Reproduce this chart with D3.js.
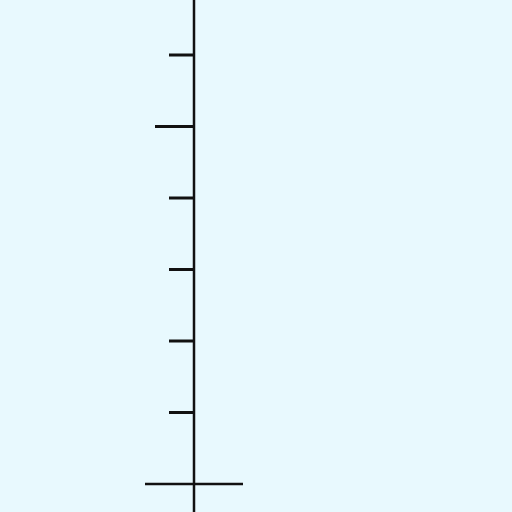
<!DOCTYPE html>
<html><head><meta charset="utf-8">
<script src="https://cdn.jsdelivr.net/npm/d3@7"></script>
<style>html,body{margin:0;padding:0;background:#e8f9fe;}svg{display:block;}</style>
</head><body>
<script>
const tickValues = [0, 1, 2, 3, 4, 5, 6];
const majorTicks = [0, 5];
const yDomain = [0, 6];

const W = 512, H = 512;
const svg = d3.select("body").append("svg").attr("width", W).attr("height", H);
svg.append("rect").attr("width", W).attr("height", H).attr("fill", "#e8f9fe");

const y = d3.scaleLinear().domain(yDomain).range([484, 55]);
const axisX = 194;

// vertical axis line
svg.append("line").attr("x1", axisX).attr("x2", axisX).attr("y1", 0).attr("y2", H)
  .attr("stroke", "#111").attr("stroke-width", 2.5);

// ticks
svg.selectAll("line.tick").data(tickValues.filter(v => v !== 0)).join("line")
  .attr("class", "tick")
  .attr("x1", d => majorTicks.includes(d) ? axisX - 39 : axisX - 25)
  .attr("x2", axisX)
  .attr("y1", d => y(d)).attr("y2", d => y(d))
  .attr("stroke", "#111").attr("stroke-width", 3);

// baseline cross at zero
svg.append("line").attr("x1", axisX - 49).attr("x2", axisX + 49)
  .attr("y1", y(0)).attr("y2", y(0))
  .attr("stroke", "#111").attr("stroke-width", 2.5);
</script>
</body></html>
